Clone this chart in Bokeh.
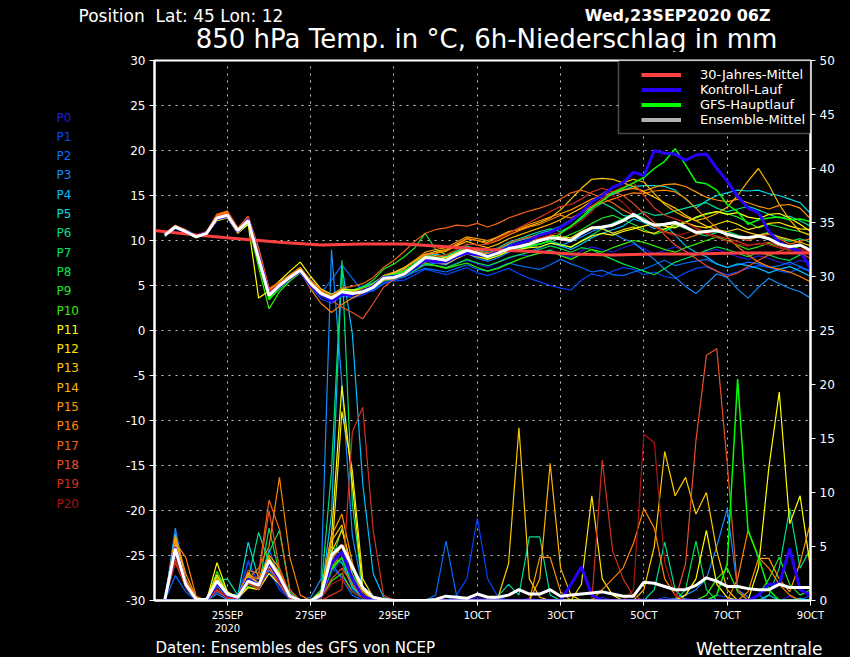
from bokeh.plotting import figure
from bokeh.layouts import column, row
from bokeh.models import (Range1d, LinearAxis, FixedTicker, Legend, LegendItem, BoxAnnotation)
from bokeh.core.properties import value
from bokeh.embed import file_html
from bokeh.resources import INLINE

# ---------------- data ----------------
HOURS = list(range(6, 379, 6))          # forecast hours after 23SEP2020 06Z
CLIM_HOURS = [0, 24, 48, 72, 96, 120, 144, 168, 192, 216, 240, 264, 288, 312, 336, 360, 378]
CLIM_T = [11.1, 10.6, 10.2, 9.8, 9.5, 9.6, 9.6, 9.3, 9.0, 8.8, 8.5, 8.4, 8.5, 8.5, 8.6, 8.6, 8.6]

X_TICKS = [42, 90, 138, 186, 234, 282, 330, 378]
X_LABELS = ["25SEP\n2020", "27SEP", "29SEP", "1OCT", "3OCT", "5OCT", "7OCT", "9OCT"]
Y_TICKS = [-30, -25, -20, -15, -10, -5, 0, 5, 10, 15, 20, 25, 30]
Y_LABELS = ["-30", "-25", "-20", "-15", "-10", "-5", "0", "5", "10", "15", "20", "25", "30"]
R_TICKS = [0, 5, 10, 15, 20, 25, 30, 35, 40, 45, 50]

MEMBER_NAMES = ["P%d" % i for i in range(21)]
MEMBER_COLORS = ["#1e1edc", "#0046ff", "#006eff", "#148cff", "#00beff", "#00dce6", "#00dc96",
                 "#00e16e", "#00e150", "#1ee628", "#32f000", "#ffff00", "#ffe600", "#ffc800",
                 "#ffb400", "#ff9600", "#ff8200", "#f06414", "#e65028", "#d2321e", "#aa1414"]

T_MEAN = [10.6, 11.5, 11.0, 10.4, 10.8, 12.5, 12.8, 11.1, 12.2,
          8.0, 3.9, 5.0, 5.9, 6.7, 5.2, 4.1, 3.6, 4.3,
          4.1, 4.3, 4.8, 5.8, 5.9, 6.3, 7.2, 8.1, 8.0,
          7.8, 8.4, 8.9, 8.6, 8.2, 8.6, 9.1, 9.3, 9.6,
          10.0, 10.3, 10.2, 10.0, 10.8, 11.4, 11.5, 11.7, 12.2,
          12.9, 12.2, 11.7, 11.8, 12.0, 11.5, 10.9, 11.0, 11.1,
          10.7, 10.4, 10.3, 10.5, 10.2, 9.6, 9.3, 9.5, 8.9]
T_CTRL = [10.7, 11.4, 11.0, 10.5, 10.8, 12.4, 12.7, 11.0, 12.3,
          8.2, 4.0, 4.9, 5.8, 6.6, 5.0, 4.0, 3.3, 4.0,
          4.0, 4.4, 4.9, 5.9, 6.0, 6.2, 7.0, 7.8, 7.6,
          7.6, 8.2, 8.6, 8.4, 8.3, 8.8, 9.3, 9.7, 10.0,
          10.6, 10.9, 11.5, 12.2, 13.1, 14.3, 15.0, 15.9, 16.4,
          17.6, 17.2, 20.0, 19.7, 19.6, 18.9, 19.5, 19.6, 18.0,
          16.6, 14.9, 13.6, 13.1, 11.0, 9.8, 9.2, 8.8, 6.9]
T_GFS = [10.6, 11.5, 11.0, 10.4, 10.8, 12.4, 12.7, 11.0, 12.2,
         7.8, 3.6, 4.9, 5.8, 6.6, 5.1, 4.0, 3.5, 4.2,
         4.1, 4.5, 5.0, 6.0, 6.2, 6.6, 7.4, 8.2, 8.1,
         7.9, 8.3, 8.8, 8.5, 8.4, 8.9, 9.4, 9.2, 9.4,
         9.6, 10.0, 10.8, 11.6, 12.6, 13.6, 14.4, 15.3, 15.8,
         16.4, 17.0, 18.0, 18.8, 20.2, 18.4, 16.5, 16.3, 15.6,
         14.0, 13.2, 11.8, 12.3, 12.5, 12.6, 12.3, 12.4, 12.1]

T_P0 = [10.5, 11.4, 11.0, 10.5, 10.7, 12.3, 12.7, 11.2, 12.1,
        8.3, 4.2, 5.1, 5.8, 6.5, 5.0, 3.8, 3.2, 4.0,
        3.6, 3.9, 4.5, 5.4, 5.6, 5.9, 6.6, 7.4, 7.2,
        7.0, 7.5, 7.8, 7.4, 7.0, 7.6, 8.0, 8.4, 8.3,
        8.6, 9.0, 8.4, 8.1, 8.9, 9.3, 9.0, 8.7, 9.2,
        9.6, 9.1, 8.5, 8.9, 9.3, 8.8, 8.4, 8.8, 9.0,
        8.6, 8.2, 7.9, 8.3, 8.0, 7.6, 7.3, 7.8, 7.5]
T_P1 = [10.7, 11.6, 11.1, 10.3, 10.9, 12.6, 12.9, 11.0, 12.3,
        8.0, 3.8, 4.8, 5.7, 6.4, 4.8, 3.5, 3.0, 3.8,
        3.7, 4.0, 4.6, 5.2, 5.5, 5.6, 6.2, 6.8, 6.5,
        6.2, 6.6, 7.0, 6.4, 6.1, 6.5, 6.9, 6.3, 5.8,
        5.4, 5.0, 4.7, 4.5, 5.6, 6.3, 6.0, 6.6, 7.0,
        6.8, 6.2, 6.5, 6.0, 5.8, 6.4, 6.9, 7.1, 6.6,
        6.2, 6.5, 6.9, 7.2, 7.0, 6.6, 6.4, 7.0, 6.5]
T_P2 = [10.8, 11.5, 11.1, 10.5, 10.8, 12.5, 12.7, 11.1, 12.2,
        7.6, 3.7, 4.9, 5.6, 6.4, 4.9, 4.2, 5.6, 7.3,
        5.8, 4.3, 4.4, 5.2, 5.8, 6.0, 6.5, 6.9, 6.7,
        6.5, 6.9, 7.3, 6.8, 6.6, 7.0, 7.5, 7.2, 7.0,
        6.8, 7.3, 7.9, 7.4, 7.0, 6.5, 6.7, 6.2, 6.1,
        6.5, 6.8, 7.3, 7.8, 7.2, 7.5, 7.7, 7.9, 7.4,
        7.0, 7.3, 7.6, 7.4, 7.0, 7.2, 7.6, 7.1, 6.6]
T_P3 = [10.6, 11.6, 10.9, 10.4, 10.9, 12.4, 12.8, 11.0, 12.2,
        8.1, 4.1, 5.0, 5.8, 6.6, 5.3, 4.0, 3.4, 4.4,
        4.4, 4.2, 5.0, 5.7, 5.6, 6.2, 7.0, 7.3, 7.5,
        7.3, 8.0, 8.6, 8.0, 7.7, 8.1, 8.7, 9.0, 8.8,
        9.2, 9.7, 9.4, 9.9, 10.4, 11.0, 11.4, 10.8, 10.2,
        9.8, 8.8, 7.9, 6.8, 5.9, 4.9, 4.1, 5.2, 6.3,
        5.9, 4.6, 3.6, 4.8, 5.8, 5.2, 4.7, 4.3, 3.6]
T_P4 = [10.4, 11.7, 11.0, 10.4, 10.7, 12.3, 12.7, 11.1, 12.1,
        8.4, 4.5, 5.3, 6.1, 6.8, 5.5, 4.3, 3.8, 4.6,
        4.4, 4.9, 5.3, 6.0, 6.1, 6.6, 7.3, 8.0, 7.9,
        7.8, 8.6, 9.0, 8.6, 8.4, 8.8, 9.2, 9.0, 9.4,
        9.6, 10.0, 9.4, 9.0, 9.6, 10.3, 10.8, 11.2, 11.6,
        12.4, 12.0, 11.3, 11.8, 10.6, 9.4, 8.7, 8.2, 7.4,
        7.0, 7.4, 7.2, 6.9, 6.4, 6.8, 7.1, 6.6, 6.0]
T_P5 = [10.6, 11.5, 11.0, 10.5, 10.9, 12.5, 12.9, 11.3, 12.4,
        8.5, 4.3, 5.2, 6.0, 6.9, 5.6, 4.6, 4.0, 4.7,
        4.5, 4.8, 5.1, 6.1, 6.3, 6.9, 7.6, 8.3, 8.5,
        8.2, 8.8, 9.2, 8.9, 8.6, 9.0, 9.6, 10.0, 10.3,
        10.8, 11.1, 11.6, 12.3, 13.0, 13.7, 14.5, 15.1, 15.6,
        16.0, 16.1, 16.1, 16.0, 15.6, 14.6, 13.6, 14.4, 15.0,
        15.3, 15.6, 15.5, 15.6, 15.2, 15.0, 14.6, 14.2, 13.0]
T_P6 = [10.7, 11.4, 11.0, 10.4, 10.8, 12.5, 12.8, 11.1, 12.2,
        8.1, 3.8, 4.9, 5.9, 6.7, 5.1, 4.0, 3.6, 4.2,
        4.2, 4.6, 5.2, 6.0, 6.3, 6.6, 7.4, 8.0, 8.3,
        8.1, 8.8, 9.4, 9.0, 8.8, 9.2, 9.8, 10.2, 10.6,
        11.0, 11.3, 11.0, 11.6, 12.4, 13.4, 14.2, 13.6, 12.8,
        12.6, 13.2, 12.8, 12.9, 13.3, 13.6, 13.9, 14.2, 13.6,
        13.2, 13.5, 13.8, 13.4, 12.9, 12.5, 12.7, 12.2, 11.6]
T_P7 = [10.5, 11.5, 11.1, 10.5, 10.8, 12.4, 12.6, 11.0, 12.0,
        7.9, 3.6, 4.8, 5.7, 6.5, 5.0, 3.9, 3.5, 4.3,
        4.0, 4.4, 4.9, 5.8, 6.0, 6.2, 7.0, 7.7, 7.5,
        7.6, 8.3, 8.9, 8.5, 8.0, 8.3, 8.8, 9.0, 9.3,
        9.6, 9.9, 9.6, 9.2, 10.0, 10.6, 11.3, 11.9, 12.4,
        13.0, 12.5, 11.6, 11.2, 11.8, 11.3, 10.8, 10.5, 10.9,
        11.0, 10.6, 10.2, 10.6, 10.9, 10.3, 9.9, 10.2, 9.8]
T_P8 = [10.6, 11.5, 11.0, 10.4, 10.8, 12.4, 12.6, 11.0, 12.1,
        7.7, 3.5, 4.8, 5.8, 6.6, 5.2, 4.2, 3.9, 4.5,
        4.2, 4.3, 4.7, 5.5, 5.8, 6.0, 6.7, 7.3, 7.2,
        7.0, 7.4, 7.9, 7.5, 7.2, 7.6, 8.1, 8.4, 8.7,
        9.0, 9.4, 9.1, 8.7, 9.2, 9.0, 8.4, 7.9, 7.4,
        7.0, 6.6, 6.2, 6.9, 7.6, 8.0, 8.4, 8.9, 9.3,
        9.0, 8.6, 8.2, 8.7, 8.4, 8.0, 7.8, 8.4, 8.8]
T_P9 = [10.6, 11.6, 11.0, 10.4, 10.8, 12.3, 12.6, 10.9, 12.0,
        7.5, 3.4, 4.6, 5.6, 6.5, 5.0, 4.0, 3.6, 4.4,
        4.4, 4.8, 5.6, 6.8, 7.4, 8.2, 9.2, 10.8, 9.0,
        8.4, 8.7, 9.1, 8.7, 8.2, 8.6, 9.0, 9.4, 9.7,
        10.0, 10.4, 10.2, 10.7, 11.2, 11.9, 12.5, 12.8, 12.3,
        11.8, 11.2, 10.7, 11.0, 11.6, 12.1, 12.5, 12.9, 13.2,
        13.0, 12.6, 12.0, 11.4, 11.8, 11.5, 11.2, 11.0, 10.6]
T_P10 = [10.5, 11.4, 10.9, 10.3, 10.7, 12.3, 12.6, 10.9, 11.9,
         7.0, 2.4, 4.3, 5.5, 6.4, 5.0, 4.1, 3.8, 4.6,
         4.5, 4.7, 5.2, 6.1, 6.0, 6.4, 7.0, 7.5, 7.2,
         6.9, 7.2, 7.5, 7.0, 6.6, 6.9, 7.4, 7.9, 8.3,
         8.6, 8.9, 8.3, 7.9, 8.5, 9.0, 8.7, 9.2, 9.6,
         10.0, 9.8, 9.4, 9.0, 8.7, 9.2, 9.6, 10.0, 10.4,
         10.0, 9.5, 9.0, 9.3, 9.7, 9.2, 8.9, 9.4, 9.0]
T_P11 = [10.6, 11.5, 11.0, 10.4, 10.7, 12.2, 12.5, 10.8, 11.8,
         3.6, 4.4, 5.5, 6.6, 7.6, 6.0, 4.6, 4.0, 4.6,
         4.5, 4.6, 5.0, 5.9, 6.1, 6.4, 7.2, 7.8, 7.6,
         7.4, 8.0, 8.5, 8.2, 7.9, 8.3, 8.8, 9.0, 9.2,
         9.3, 9.7, 9.5, 9.3, 9.9, 10.5, 10.8, 10.6, 11.0,
         11.3, 11.6, 11.9, 11.6, 11.4, 12.0, 12.6, 13.0, 13.2,
         12.9, 13.1, 12.6, 12.4, 12.9, 13.0, 12.5, 11.8, 11.0]
T_P12 = [10.7, 11.6, 11.1, 10.5, 10.9, 12.6, 12.9, 11.2, 12.4,
         8.4, 3.7, 5.0, 6.1, 7.0, 5.4, 4.2, 3.7, 4.4,
         4.3, 4.6, 5.0, 5.9, 6.0, 6.5, 7.3, 8.2, 8.3,
         8.1, 8.6, 9.1, 8.8, 8.5, 8.9, 9.4, 9.6, 9.9,
         10.2, 10.6, 10.4, 10.3, 11.0, 11.5, 11.3, 10.8, 11.2,
         11.5, 11.0, 10.8, 11.3, 11.8, 12.0, 11.6, 11.4, 11.8,
         12.2, 11.8, 11.2, 11.5, 11.9, 12.0, 11.6, 11.3, 11.2]
T_P13 = [10.7, 11.6, 11.0, 10.5, 10.9, 12.7, 13.0, 11.2, 12.5,
         8.5, 4.1, 5.1, 6.0, 6.8, 5.3, 4.0, 3.5, 4.2,
         4.1, 4.4, 5.0, 6.0, 6.4, 7.0, 7.8, 8.4, 8.8,
         9.0, 9.5, 10.2, 10.0, 9.8, 10.4, 11.0, 11.2, 11.6,
         12.0, 12.5, 13.4, 14.6, 15.8, 16.8, 16.9, 16.8, 16.4,
         16.0, 15.4, 14.8, 14.2, 13.6, 12.8, 12.2, 11.6, 11.2,
         11.0, 11.3, 10.9, 10.6, 10.8, 10.4, 10.1, 9.8, 9.4]
T_P14 = [10.6, 11.5, 11.0, 10.4, 10.8, 12.8, 13.1, 11.1, 12.5,
         8.6, 4.3, 5.0, 5.9, 6.7, 5.4, 4.3, 3.7, 4.3,
         4.2, 4.5, 5.1, 6.1, 6.5, 7.0, 7.7, 8.5, 8.6,
         8.8, 9.4, 9.9, 9.5, 9.2, 9.6, 10.2, 10.6, 11.0,
         11.4, 11.8, 12.3, 13.0, 13.6, 14.4, 15.2, 15.9, 16.4,
         16.8, 16.5, 15.2, 14.0, 13.2, 12.6, 12.2, 12.5, 13.0,
         13.7, 15.0, 16.6, 18.0, 16.2, 14.0, 12.3, 11.0, 10.6]
T_P15 = [10.8, 11.6, 11.1, 10.5, 10.9, 12.9, 13.2, 11.3, 12.6,
         8.9, 4.5, 5.3, 6.2, 7.0, 5.5, 4.4, 3.6, 4.1,
         4.0, 4.3, 4.9, 5.9, 6.2, 6.8, 7.8, 8.7, 9.0,
         9.2, 9.8, 10.4, 10.2, 10.0, 10.4, 10.9, 11.3, 11.8,
         12.2, 12.6, 13.0, 13.4, 14.0, 14.6, 15.0, 15.3, 15.6,
         15.8, 15.5, 15.9, 16.2, 16.3, 16.0, 15.4, 14.8, 14.5,
         14.3, 14.6, 14.2, 13.8, 13.5, 13.9, 14.0, 13.6, 12.4]
T_P16 = [10.7, 11.5, 11.0, 10.5, 10.8, 12.8, 13.1, 11.2, 12.4,
         8.8, 4.6, 5.4, 6.1, 6.6, 4.6, 3.0, 2.0, 2.9,
         3.6, 4.2, 4.7, 5.6, 5.8, 6.4, 7.4, 8.4, 8.6,
         8.9, 9.6, 10.2, 10.0, 9.6, 10.0, 10.6, 11.1, 11.5,
         11.8, 12.3, 12.8, 12.5, 13.1, 13.8, 14.2, 14.6, 15.0,
         15.3, 15.2, 15.5, 15.6, 15.4, 14.7, 13.6, 12.4, 11.4,
         10.4, 9.3, 8.4, 7.6, 7.1, 6.8, 6.5, 6.0, 5.4]
T_P17 = [10.8, 11.7, 11.2, 10.6, 11.0, 12.9, 13.3, 11.4, 12.7,
         9.2, 4.7, 5.4, 6.0, 6.9, 5.6, 4.5, 3.9, 4.7,
         4.9, 5.2, 5.9, 7.0, 7.8, 8.8, 9.9, 10.8, 11.2,
         11.4, 11.7, 11.6, 11.9, 11.5, 11.9, 12.5, 12.9, 13.3,
         13.6, 14.0, 14.6, 15.3, 15.6, 15.2, 14.7, 14.2, 13.4,
         12.8, 12.2, 11.6, 11.0, 10.7, 10.2, 10.6, 11.0, 11.2,
         10.8, 10.3, 10.0, 10.4, 10.7, 10.2, 9.6, 9.9, 10.2]
T_P18 = [10.7, 11.5, 11.0, 10.5, 10.9, 12.7, 13.0, 11.2, 12.5,
         8.6, 4.4, 5.2, 6.0, 6.6, 5.4, 4.2, 3.3, 2.6,
         2.0, 1.3, 3.0, 4.8, 5.7, 6.3, 7.0, 7.6, 7.9,
         7.8, 8.4, 9.0, 8.8, 8.6, 9.1, 9.7, 10.1, 10.4,
         10.6, 11.0, 11.5, 12.2, 13.0, 13.8, 14.6, 15.4, 15.0,
         14.1, 13.0, 12.0, 10.6, 9.5, 8.8, 8.0, 7.2, 6.6,
         6.0, 6.4, 7.1, 7.8, 8.4, 8.8, 9.2, 8.6, 8.0]
T_P19 = [10.7, 11.6, 11.1, 10.5, 10.9, 12.6, 12.9, 11.2, 12.6,
         8.7, 4.3, 5.1, 5.9, 6.7, 5.3, 4.1, 3.4, 4.2,
         4.1, 4.5, 5.0, 5.9, 6.0, 6.5, 7.2, 7.9, 8.2,
         8.4, 9.0, 9.6, 9.5, 9.6, 10.2, 10.8, 11.4, 12.0,
         12.6, 13.2, 13.8, 14.0, 14.6, 15.4, 15.8, 15.4, 15.9,
         16.4, 15.0, 13.6, 12.8, 12.4, 12.0, 11.4, 10.8, 10.5,
         10.2, 9.9, 9.5, 9.6, 9.8, 9.4, 9.1, 8.9, 8.7]
T_P20 = [10.6, 11.5, 11.0, 10.4, 10.8, 12.5, 12.8, 11.1, 12.3,
         8.2, 4.0, 5.0, 5.8, 6.6, 5.1, 3.9, 3.4, 4.1,
         4.2, 4.6, 5.0, 5.8, 6.0, 6.4, 7.1, 7.8, 7.7,
         7.6, 8.2, 8.8, 8.5, 8.2, 8.6, 9.2, 9.6, 10.0,
         10.3, 10.6, 10.9, 11.4, 12.2, 13.2, 14.6, 15.0, 14.2,
         13.0, 12.2, 11.5, 10.9, 10.5, 10.8, 11.2, 10.7, 10.3,
         9.9, 9.6, 9.4, 9.7, 9.5, 9.2, 8.9, 9.1, 8.8]

# 6h precipitation (mm)
R_MEAN = [0.1, 4.8, 1.5, 0.1, 0.1, 1.8, 0.6, 0.3, 1.8,
          1.4, 3.7, 2.2, 0.4, 0.0, 0.0, 0.5, 4.2, 5.1,
          3.1, 1.2, 0.3, 0.1, 0.0, 0.0, 0.0, 0.0, 0.1,
          0.4, 0.3, 0.2, 0.6, 0.3, 0.3, 0.5, 1.0, 0.6,
          0.6, 1.0, 0.4, 0.5, 0.6, 0.7, 0.8, 0.6, 0.4,
          0.4, 1.7, 1.6, 1.3, 1.0, 1.0, 1.4, 2.1, 1.8,
          1.3, 1.3, 1.1, 1.0, 1.0, 1.5, 1.2, 1.2, 1.2]
R_CTRL = [0, 4.9, 1.5, 0, 0, 1.6, 0.5, 0.3, 2.0,
          1.4, 3.5, 2.0, 0.4, 0, 0, 0.4, 3.5, 4.5,
          2.0, 0.4, 0, 0, 0, 0, 0, 0, 0,
          0, 0, 0, 0, 0, 0, 0, 0, 0,
          0, 0, 0, 1.5, 3.1, 0.5, 0, 0, 0,
          0, 0, 0, 0, 0, 0, 0, 0, 0,
          0, 0, 0, 0.5, 1.5, 1.5, 4.8, 1.0, 0.5]
R_GFS = [0, 4.7, 1.4, 0, 0, 1.9, 0.5, 0.3, 2.1,
         1.5, 3.6, 2.2, 0.4, 0, 0, 0.3, 3.0, 4.0,
         1.8, 0.4, 0, 0, 0, 0, 0, 0, 0,
         0, 0, 0, 0, 0, 0, 0, 0, 0,
         0, 0, 0, 0, 0, 0, 0, 0, 0,
         0, 0, 0, 0, 0, 0, 0, 0, 0.5,
         3.4, 20.5, 6.5, 4.0, 1.0, 0, 0, 0, 0]
R_P0 = [0, 4.2, 1.5, 0, 0, 1.2, 0.3, 0.2, 3.5,
        1.0, 2.5, 1.2, 0.2, 0, 0, 0.2, 2.5, 3.8,
        1.5, 0.4, 0, 0, 0, 0, 0, 0, 0,
        0, 0, 0, 0.3, 0, 0, 0, 0, 0.2,
        0, 0, 0, 0, 0, 0, 0.3, 0, 0,
        0, 0, 0, 0, 0, 0.2, 0, 0, 0,
        0, 0, 0, 0, 0, 0, 0.4, 0, 0]
R_P1 = [0.2, 5.0, 1.2, 0, 0, 1.5, 0.4, 0.3, 3.7,
        1.5, 3.0, 1.0, 0.1, 0, 0, 0.3, 3.0, 2.2,
        1.0, 0.2, 0, 0, 0, 0, 0, 0, 0,
        0, 0.5, 2.0, 7.6, 2.0, 0.3, 0, 0, 0,
        0, 0, 0, 0, 0, 0, 0, 0, 0,
        0, 0, 0, 0.3, 0, 0, 0, 0, 0.5,
        0.3, 0, 0, 0, 0, 0, 0, 0, 0.5]
R_P2 = [0, 2.3, 0.8, 0, 0, 0.8, 0.2, 0, 2.0,
        1.5, 4.8, 2.0, 0.3, 0, 0, 0.5, 3.5, 2.0,
        0.5, 0, 0, 0, 0, 0, 0, 0, 0.5,
        5.5, 0.5, 0, 0, 0, 0, 0, 0, 0,
        0, 0, 0, 0, 0, 0, 0, 0, 0,
        0, 0, 0, 0, 0, 0, 0, 0, 0,
        0, 0, 0, 0.5, 0, 0, 0, 0, 0]
R_P3 = [0, 6.7, 1.8, 0, 0, 0.6, 0.1, 0, 1.5,
        1.2, 2.8, 1.5, 0.2, 0, 0.3, 2.0, 32.5, 20.0,
        6.0, 1.0, 0, 0, 0, 0, 0, 0, 0,
        0, 0, 0, 0, 0, 0, 0, 0, 0,
        0, 0, 0, 0, 0, 0, 0, 0, 0,
        0, 0, 0, 0, 0.2, 0.5, 1.0, 2.0, 5.0,
        8.5, 1.0, 0.3, 0, 0, 0, 0, 0, 0]
R_P4 = [0, 6.2, 1.6, 0, 0, 1.8, 0.5, 0.2, 2.5,
        1.0, 3.5, 2.0, 0.3, 0, 0, 0.5, 8.0, 31.0,
        24.7, 10.8, 2.5, 0.3, 0, 0, 0, 0, 0,
        0, 0, 0, 0, 0, 0, 0, 0, 0,
        0, 0, 0, 0, 0, 0, 0, 0, 0,
        0, 0, 0, 0, 0, 0, 0, 0, 0,
        0, 0, 0, 0, 0.5, 0, 0, 0.2, 0]
R_P5 = [0, 5.5, 1.4, 0, 0, 2.0, 0.6, 0.5, 5.4,
        2.0, 3.0, 1.8, 0.2, 0, 0, 0.4, 4.0, 3.5,
        1.2, 0.3, 0, 0, 0, 0, 0, 0, 0,
        0, 0, 0, 0, 0, 0, 0, 0, 0,
        0, 0, 0, 0, 0, 0, 0, 0, 0,
        0, 0, 0, 0, 0, 0, 0, 0, 0,
        0, 0, 0, 0, 0, 0, 0, 0, 0]
R_P6 = [0, 4.8, 1.2, 0, 0.2, 1.8, 2.0, 0.5, 2.0,
        6.3, 3.5, 1.5, 0.3, 0, 0, 0.6, 5.0, 4.2,
        1.5, 0.3, 0, 0, 0, 0, 0, 0, 0,
        0, 0, 0, 0, 0, 0.4, 1.5, 0.5, 5.9,
        5.9, 0.5, 0, 0, 0, 0, 0, 0, 0,
        0, 0, 1.0, 5.4, 1.0, 0, 0, 0, 0,
        0, 0, 0, 0, 0.5, 3.0, 8.5, 3.0, 4.8]
R_P7 = [0, 4.5, 1.3, 0, 0, 1.4, 0.3, 0.2, 1.8,
        1.4, 4.5, 6.5, 0.8, 0, 0, 1.0, 12.0, 31.5,
        9.0, 1.0, 0, 0, 0, 0, 0, 0, 0,
        0, 0, 0, 0, 0, 0, 0, 0, 0,
        0, 0, 0, 0, 0, 0, 0, 0, 0,
        0, 0, 0, 0, 0, 0, 0, 0, 0,
        0, 0, 0, 0, 0, 0, 0, 0, 0]
R_P8 = [0, 4.6, 1.6, 0, 0, 2.2, 0.4, 0.2, 1.5,
        1.2, 6.7, 2.5, 0.3, 0, 0, 0.3, 3.5, 6.7,
        2.5, 0.5, 0, 0, 0, 0, 0, 0, 0,
        0, 0, 0, 0, 0, 0, 0, 0, 0,
        0, 0, 0, 0, 0, 0, 0, 0, 0,
        0, 0, 0, 0, 0, 1.0, 5.5, 1.0, 0,
        0, 0, 0, 0, 0, 0, 0, 0, 0]
R_P9 = [0, 4.9, 1.5, 0, 0, 2.7, 0.8, 0.3, 1.3,
        1.0, 3.8, 1.8, 0.3, 0, 0, 0.3, 2.8, 4.0,
        1.4, 0.3, 0, 0, 0, 0, 0, 0, 0,
        0, 0, 0, 0, 0, 0, 0, 0, 0,
        0, 0, 0, 0, 0, 0, 0, 0, 0,
        0, 0, 0, 0, 0, 0, 0, 0, 0,
        0, 0, 0, 0.5, 2.0, 4.0, 1.5, 0.5, 1.0]
R_P10 = [0, 5.0, 1.7, 0, 0, 2.3, 0.5, 0.3, 1.6,
         1.3, 4.0, 2.0, 0.3, 0, 0, 0.2, 1.8, 2.5,
         0.8, 0.2, 0, 0, 0, 0, 0, 0, 0,
         0, 0, 0, 0, 0, 0, 0, 0, 0,
         0, 0, 0, 0, 0, 0, 0, 0, 0,
         0, 0, 0, 0, 0, 0, 0, 0.5, 2.0,
         3.0, 0.8, 0, 0, 0, 0, 0, 0, 0]
R_P11 = [0, 4.4, 1.8, 0.2, 0, 3.5, 0.8, 0.2, 1.2,
         1.0, 2.5, 1.5, 0.2, 0, 0, 0.8, 6.0, 19.9,
         10.8, 1.0, 0, 0, 0, 0, 0, 0, 0,
         0, 0, 0, 0, 0, 0, 0, 0, 0,
         0, 0, 0, 0, 0, 0, 0, 0, 0,
         0, 0, 0, 0, 0, 0.5, 2.0, 6.5, 1.5,
         0.3, 0, 0, 3.0, 12.3, 19.3, 7.1, 9.7, 3.0]
R_P12 = [0, 5.2, 1.6, 0, 0, 2.4, 0.6, 0.3, 2.2,
         1.6, 3.2, 1.8, 0.2, 0, 0, 0.4, 4.0, 17.5,
         12.0, 2.0, 0.3, 0, 0, 0, 0, 0, 0,
         0, 0, 0, 0, 0, 0, 0, 0, 0,
         0, 0, 0, 0, 1.5, 9.7, 2.0, 0.5, 0,
         0, 0, 0, 0, 0, 0, 0, 0, 0,
         0, 0, 0, 0, 0, 0, 0, 0, 0]
R_P13 = [0, 5.6, 1.7, 0, 0, 2.0, 0.5, 0.3, 2.4,
         1.3, 3.6, 2.4, 0.4, 0, 0, 0.5, 4.5, 6.5,
         3.0, 0.5, 0, 0, 0, 0, 0, 0, 0,
         0, 0, 0, 0, 0, 0.3, 3.4, 16.0, 2.0,
         0.3, 0, 0, 0, 0, 0, 0, 0, 0,
         0, 1.0, 5.0, 13.8, 9.7, 11.4, 8.0, 10.0, 4.6,
         1.0, 0, 0, 0, 0, 0, 0, 0, 0]
R_P14 = [0, 5.8, 2.0, 0.2, 0, 2.1, 0.6, 0.4, 2.6,
         1.5, 3.9, 2.6, 0.5, 0, 0, 0.4, 5.5, 7.0,
         2.2, 0.5, 0, 0, 0, 0, 0, 0, 0,
         0, 0, 0, 0, 0, 0, 0, 0, 0,
         2.0, 12.7, 3.0, 0.5, 0, 0, 0, 0, 0,
         0, 0, 0, 0, 0, 0, 0, 0, 0,
         0, 0, 0, 0, 0, 0, 0, 0, 0]
R_P15 = [0, 6.0, 2.5, 0.3, 0, 1.9, 0.5, 0.3, 2.3,
         2.0, 4.2, 3.0, 0.6, 0, 0, 0.6, 6.0, 8.0,
         3.5, 0.8, 0, 0, 0, 0, 0, 0, 0,
         0, 0, 0, 0, 0, 0, 0, 0, 0,
         4.0, 4.0, 0.8, 0, 0, 0, 0, 0, 0,
         0, 0, 0, 0, 0, 0, 0, 0, 0,
         0, 0, 0.8, 3.9, 3.9, 2.0, 0.8, 3.5, 7.2]
R_P16 = [0, 5.4, 4.0, 0.4, 0, 1.7, 0.5, 0.3, 2.0,
         3.0, 5.0, 11.4, 4.0, 0.5, 0, 0.3, 3.8, 5.0,
         2.0, 0.4, 0, 0, 0, 0, 0, 0, 0,
         0, 0, 0, 0, 0, 0, 0, 0, 0,
         0, 0, 0, 0, 0, 0, 1.0, 2.0, 3.0,
         5.3, 8.5, 6.7, 2.0, 0.5, 0, 0, 0, 0,
         0, 2.0, 6.5, 4.0, 3.0, 1.5, 0.5, 0, 0]
R_P17 = [0, 5.0, 1.9, 0.2, 0, 2.0, 0.6, 0.4, 2.8,
         2.5, 9.3, 6.6, 1.0, 0, 0, 0.3, 3.0, 4.5,
         1.8, 0.4, 0, 0, 0, 0, 0, 0, 0,
         0, 0, 0, 0, 0, 0, 0, 0, 0,
         0, 0, 0, 0, 0, 0, 0, 0, 0,
         0, 0, 0, 0, 0, 0, 0, 0, 0,
         0, 0, 0, 0, 0, 0, 0, 0, 0]
R_P18 = [0, 3.8, 1.4, 0, 0, 1.0, 0.3, 0.2, 2.0,
         2.2, 8.3, 3.0, 0.5, 0, 0, 0.2, 2.0, 3.0,
         1.5, 0.3, 0, 0, 0, 0, 0, 0, 0,
         0, 0, 0, 0, 0, 0, 0, 0, 0,
         0, 0, 0, 0, 0, 0, 0, 0, 0,
         0, 0, 0, 0, 0, 3.4, 14.8, 22.7, 23.3,
         12.7, 1.0, 0, 0, 0, 0, 0, 0, 0]
R_P19 = [0, 3.5, 1.2, 0, 0, 0.9, 0.2, 0.2, 1.6,
         1.0, 3.0, 1.5, 0.2, 0, 0, 0, 0.5, 1.0,
         15.6, 17.9, 6.5, 0.5, 0, 0, 0, 0, 0,
         0, 0, 0, 0, 0, 0, 0, 0, 0,
         0, 0, 0, 0, 0, 0, 13.0, 4.6, 2.0,
         0.4, 0, 0, 0, 0, 0, 0, 0, 0,
         0, 0, 0, 0, 0, 0, 0, 0, 0]
R_P20 = [0, 4.0, 1.3, 0, 0, 1.1, 0.3, 0.2, 1.7,
         1.2, 3.4, 1.7, 0.3, 0, 0, 0.2, 1.5, 2.0,
         0.8, 0.2, 0, 0, 0, 0, 0, 0, 0,
         0, 0, 0, 0, 0, 0, 0, 0, 0,
         0, 0, 0, 0, 0, 0, 0, 0, 0,
         1.0, 15.4, 14.6, 3.5, 0.5, 0, 0, 0, 0,
         0, 0, 0, 0, 0, 0, 0, 0, 0]

MEMBER_T = [T_P0, T_P1, T_P2, T_P3, T_P4, T_P5, T_P6, T_P7, T_P8, T_P9, T_P10,
            T_P11, T_P12, T_P13, T_P14, T_P15, T_P16, T_P17, T_P18, T_P19, T_P20]
MEMBER_R = [R_P0, R_P1, R_P2, R_P3, R_P4, R_P5, R_P6, R_P7, R_P8, R_P9, R_P10,
            R_P11, R_P12, R_P13, R_P14, R_P15, R_P16, R_P17, R_P18, R_P19, R_P20]

LEGEND_LABELS = ["30-Jahres-Mittel", "Kontroll-Lauf", "GFS-Hauptlauf", "Ensemble-Mittel"]
CLIM_COLOR = "#ff4040"
CTRL_COLOR = "#2800ff"
GFS_COLOR = "#00ff00"
MEAN_COLOR = "#ffffff"
MEAN_LEGEND_COLOR = "#b4b4b4"

HEAD_TEXTS = ["Position", "Lat: 45 Lon: 12"]
TITLE_DATE = "Wed,23SEP2020 06Z"
TITLE_MAIN = "850 hPa Temp. in °C, 6h-Niederschlag in mm"
FOOT_LEFT = "Daten: Ensembles des GFS von NCEP"
FOOT_RIGHT = "Wetterzentrale"

FONT = "DejaVu Sans"

# ---------------- layout geometry (page pixels) ----------------
W, H = 850, 657
HEAD_H = 52
FOOT_H = 20
SIDE_W = 100
MAIN_W = W - SIDE_W
MAIN_H = H - HEAD_H - FOOT_H
B_TOP, B_BOTTOM, B_LEFT, B_RIGHT = 8, 37, 54, 40
X0, X1 = 0, 378
Y0, Y1 = -30, 30


def blank(width, height, x0, x1, y_top, y_bottom, top=0, bottom=0):
    f = figure(width=width, height=height, output_backend="svg", toolbar_location=None,
               x_range=Range1d(x0, x1), y_range=Range1d(y_bottom, y_top),
               x_axis_type=None, y_axis_type=None,
               min_border_left=0, min_border_right=0, min_border_top=top, min_border_bottom=bottom,
               background_fill_color="black", border_fill_color="black")
    f.outline_line_color = None
    f.xgrid.visible = False
    f.ygrid.visible = False
    f.frame_align = False
    return f


# header
head = blank(W, HEAD_H, 0, W, 0, HEAD_H)
head.text(x=[78, 155], y=[15, 15], text=HEAD_TEXTS, text_color="white", text_font=value(FONT),
          text_font_size="17px", text_baseline="middle", text_align="left")
head.text(x=[770], y=[15], text=[TITLE_DATE], text_color="white", text_font=value(FONT),
          text_font_size="16px", text_font_style="bold", text_baseline="middle", text_align="right")
head.text(x=[486], y=[38], text=[TITLE_MAIN], text_color="white", text_font=value(FONT),
          text_font_size="26px", text_baseline="middle", text_align="center")

# left side: member names (frame spans page y 60..600, like the chart frame)
side = blank(SIDE_W, MAIN_H, 0, SIDE_W, HEAD_H + B_TOP, HEAD_H + MAIN_H - B_BOTTOM,
             top=B_TOP, bottom=B_BOTTOM)
side.text(x=[56] * 21, y=[117 + i * 19.3 for i in range(21)], text=MEMBER_NAMES,
          text_color=MEMBER_COLORS, text_font=value(FONT), text_font_size="12px",
          text_baseline="middle", text_align="left")

# footer
foot = blank(W, FOOT_H, 0, W, HEAD_H + MAIN_H, H)
foot.text(x=[155], y=[647], text=[FOOT_LEFT], text_color="white", text_font=value(FONT),
          text_font_size="15px", text_baseline="middle", text_align="left")
foot.text(x=[822], y=[648], text=[FOOT_RIGHT], text_color="white", text_font=value(FONT),
          text_font_size="17px", text_baseline="middle", text_align="right")

# main chart
p = figure(width=MAIN_W, height=MAIN_H, output_backend="svg", toolbar_location=None,
           x_range=Range1d(X0, X1), y_range=Range1d(Y0, Y1),
           min_border_left=B_LEFT, min_border_right=B_RIGHT, min_border_top=B_TOP,
           min_border_bottom=B_BOTTOM,
           background_fill_color="black", border_fill_color="black",
           outline_line_color="white", outline_line_width=2)
p.frame_align = False
p.extra_y_ranges = {"rain": Range1d(0, 50)}

for ax in (p.xaxis[0], p.yaxis[0]):
    ax.axis_line_color = "white"
    ax.axis_line_width = 2
    ax.major_tick_line_color = "white"
    ax.major_tick_out = 5
    ax.major_tick_in = 0
    ax.minor_tick_line_color = None
    ax.major_label_text_color = "white"
    ax.major_label_text_font = FONT

p.xaxis.ticker = FixedTicker(ticks=X_TICKS)
p.xaxis.major_label_overrides = dict(zip(X_TICKS, X_LABELS))
p.xaxis.major_label_text_font_size = "10px"
p.xaxis.major_label_standoff = 4
p.yaxis.ticker = FixedTicker(ticks=Y_TICKS)
p.yaxis.major_label_overrides = dict(zip(Y_TICKS, Y_LABELS))
p.yaxis.major_label_text_font_size = "12px"
p.yaxis.major_label_standoff = 4

ax_r = LinearAxis(y_range_name="rain", ticker=FixedTicker(ticks=R_TICKS),
                  axis_line_color="white", axis_line_width=2,
                  major_tick_line_color="white", major_tick_out=5, major_tick_in=0,
                  minor_tick_line_color=None, major_label_text_color="white",
                  major_label_text_font=FONT, major_label_text_font_size="12px",
                  major_label_standoff=4)
p.add_layout(ax_r, "right")

p.xgrid.ticker = FixedTicker(ticks=X_TICKS)
p.ygrid.ticker = FixedTicker(ticks=Y_TICKS)
for g in (p.xgrid[0], p.ygrid[0]):
    g.grid_line_color = "#c8c8c8"
    g.grid_line_dash = "2 5"
    g.grid_line_width = 1

for tvals, rvals, col in zip(MEMBER_T, MEMBER_R, MEMBER_COLORS):
    p.line(HOURS, tvals, line_color=col, line_width=1.2)
    p.line(HOURS, rvals, line_color=col, line_width=1.2, y_range_name="rain")

p.line(HOURS, T_GFS, line_color=GFS_COLOR, line_width=1.5)
p.line(HOURS, R_GFS, line_color=GFS_COLOR, line_width=1.5, y_range_name="rain")
p.line(HOURS, T_CTRL, line_color=CTRL_COLOR, line_width=3)
p.line(HOURS, R_CTRL, line_color=CTRL_COLOR, line_width=3, y_range_name="rain")
p.line(CLIM_HOURS, CLIM_T, line_color=CLIM_COLOR, line_width=3)
p.line(HOURS, T_MEAN, line_color=MEAN_COLOR, line_width=3)
p.line(HOURS, R_MEAN, line_color=MEAN_COLOR, line_width=3, y_range_name="rain")

# legend box (frame is 656 x 540 px)
frame_w = MAIN_W - B_LEFT - B_RIGHT
frame_h = MAIN_H - B_TOP - B_BOTTOM
box = BoxAnnotation(left=X1 - 192 * (X1 - X0) / frame_w, right=X1, top=Y1,
                    bottom=Y1 - 73 * (Y1 - Y0) / frame_h,
                    fill_color="black", fill_alpha=1.0, line_color="white", line_width=1.5)
p.add_layout(box)
leg_r = []
for col in (CLIM_COLOR, CTRL_COLOR, GFS_COLOR, MEAN_LEGEND_COLOR):
    # legend-only renderers, kept outside the visible ranges
    leg_r.append(p.line(x=[-50, -40], y=[-100, -100], line_color=col, line_width=4))
legend = Legend(items=[LegendItem(label=lab, renderers=[r]) for lab, r in zip(LEGEND_LABELS, leg_r)],
                location=(481, 467), orientation="vertical",
                background_fill_alpha=0, border_line_alpha=0,
                label_text_color="white", label_text_font=FONT, label_text_font_size="13px",
                glyph_width=40, glyph_height=15, label_height=15, spacing=0, padding=6,
                margin=0, label_standoff=19)
p.add_layout(legend)

layout = column(head, row(side, p, spacing=0), foot, spacing=0, background="black")
open("out.html", "w").write(file_html(layout, INLINE))
